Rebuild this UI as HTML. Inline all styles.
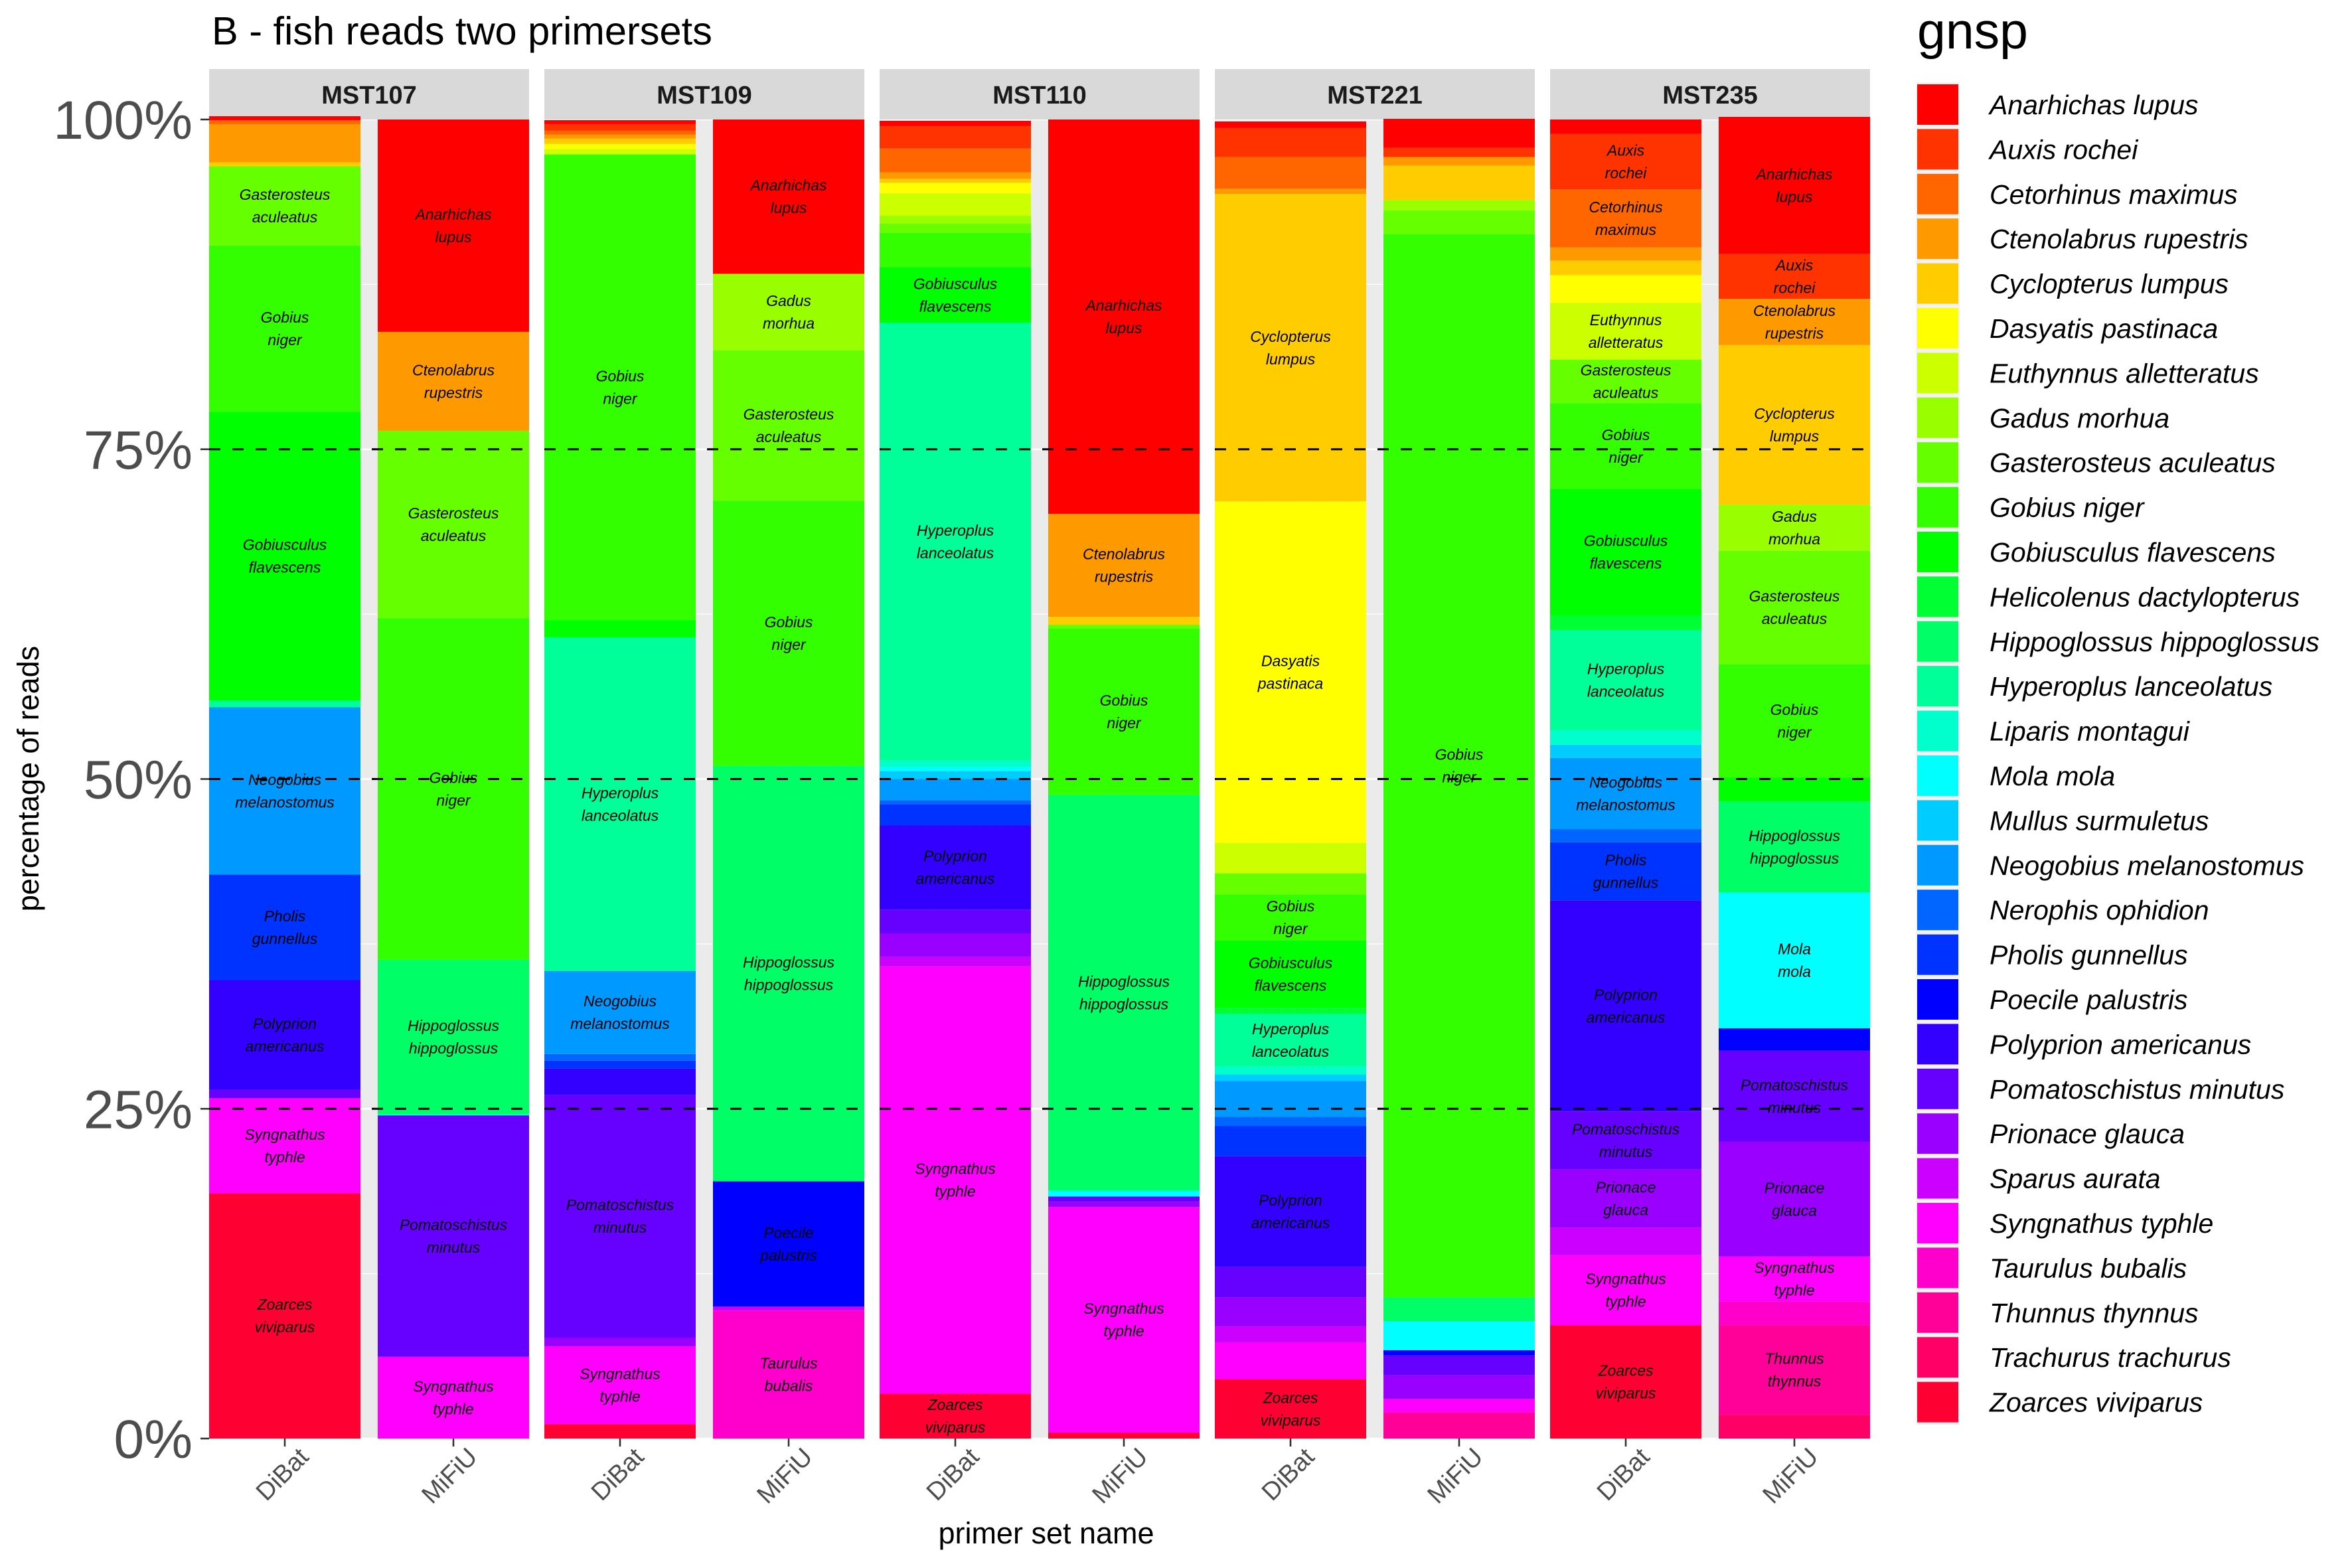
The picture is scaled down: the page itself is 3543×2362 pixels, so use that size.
<!DOCTYPE html>
<html><head><meta charset="utf-8"><title>B - fish reads two primersets</title>
<style>html,body{margin:0;padding:0;background:#fff}svg{display:block}text{font-family:"Liberation Sans",sans-serif}</style>
</head><body>
<svg id="chart" xmlns="http://www.w3.org/2000/svg" width="3543" height="2362" viewBox="0 0 3543 2362">
<rect x="0" y="0" width="3543" height="2362" fill="#fff"/>
<text x="319" y="67" font-size="59.5" fill="#000">B - fish reads two primersets</text>
<g id="plot"></g>
<text x="1576" y="2325" font-size="45" fill="#000" text-anchor="middle">primer set name</text>
<text transform="translate(58,1173) rotate(-90)" font-size="45" fill="#000" text-anchor="middle">percentage of reads</text>
<text x="2888" y="73" font-size="77" fill="#000">gnsp</text>
<g id="legend"></g>
</svg>
<script>
const species = ["Anarhichas lupus","Auxis rochei","Cetorhinus maximus","Ctenolabrus rupestris","Cyclopterus lumpus","Dasyatis pastinaca","Euthynnus alletteratus","Gadus morhua","Gasterosteus aculeatus","Gobius niger","Gobiusculus flavescens","Helicolenus dactylopterus","Hippoglossus hippoglossus","Hyperoplus lanceolatus","Liparis montagui","Mola mola","Mullus surmuletus","Neogobius melanostomus","Nerophis ophidion","Pholis gunnellus","Poecile palustris","Polyprion americanus","Pomatoschistus minutus","Prionace glauca","Sparus aurata","Syngnathus typhle","Taurulus bubalis","Thunnus thynnus","Trachurus trachurus","Zoarces viviparus"];
const panels = ["MST107","MST109","MST110","MST221","MST235"];
const primers = ["DiBat","MiFiU"];
const yTicks = [0,25,50,75,100];
const yTickLabels = ["0%","25%","50%","75%","100%"];
// percentages per species (species order above), one array per bar
const mst107DiBat = [0.3,0,0.3,2.9,0.3,0,0,0,6,12.6,21.9,0,0,0.5,0,0,0,12.7,0,8,0,8.3,0.65,0,0,7.2,0,0,0,18.6];
const mst107MiFiU = [16.1,0,0,7.5,0,0,0,0,14.2,25.9,0,0,11.7,0,0.1,0,0,0,0,0,0,0,18.3,0,0,6.2,0,0,0,0];
const mst109DiBat = [0.3,0.5,0.3,0.3,0.4,0.4,0.4,0,0,35.3,1.3,0,0,25.3,0,0,0,6.3,0.5,0.6,0,2.0,18.4,0.65,0,5.9,0,0,0,1.1];
const mst109MiFiU = [11.7,0,0,0,0,0,0,5.8,11.4,20.1,0,0,31.5,0,0,0,0,0,0,0,9.5,0,0,0,0.3,0,9.7,0,0,0];
const mst110DiBat = [0.4,1.7,1.8,0.5,0.3,0.8,1.7,0.6,0.7,2.6,4.2,0,0,33.2,0.5,0.3,0.6,1.6,0.3,1.6,0,6.4,1.8,1.8,0.7,32.4,0,0,0,3.4];
const mst110MiFiU = [29.9,0,0,7.8,0.6,0,0,0,0.3,12.6,0,0,30,0,0,0.45,0,0,0,0,0,0,0.4,0.4,0,17.1,0,0,0,0.45];
const mst221DiBat = [0.5,2.2,2.4,0.4,23.3,25.9,2.3,0,1.6,3.5,5.1,0.45,0,4.0,0.6,0,0.5,2.7,0.7,2.3,0,8.4,2.3,2.2,1.2,2.8,0,0,0,4.5];
const mst221MiFiU = [2.2,0.7,0,0.65,2.6,0,0,0.8,1.8,80.6,0,0,1.8,0,0,2.2,0,0,0,0,0.4,0,1.5,1.8,0,1.0,0,2.0,0,0];
const mst235DiBat = [1.1,4.2,4.4,1.0,1.1,2.1,4.3,0,3.3,6.5,9.6,1.1,0,7.6,1.1,0,1.0,5.4,1.0,4.4,0,16,4.4,4.4,2.1,5.3,0,0,0,8.6];
const mst235MiFiU = [10.4,3.4,0,3.5,12.1,0,0,3.5,8.6,8.6,1.8,0,6.9,0,0,10.3,0,0,0,0,1.7,0,6.9,8.7,0,3.4,1.8,6.8,1.8,0];
const barData = [[mst107DiBat,mst107MiFiU],[mst109DiBat,mst109MiFiU],[mst110DiBat,mst110MiFiU],[mst221DiBat,mst221MiFiU],[mst235DiBat,mst235MiFiU]];

const NS="http://www.w3.org/2000/svg";
function mk(tag,attrs,parent){const e=document.createElementNS(NS,tag);for(const k in attrs)e.setAttribute(k,attrs[k]);parent.appendChild(e);return e;}
function hsvHex(h){const i=Math.floor(h*6),f=h*6-i,q=1-f,t=f;let r,g,b;switch(i%6){case 0:r=1;g=t;b=0;break;case 1:r=q;g=1;b=0;break;case 2:r=0;g=1;b=t;break;case 3:r=0;g=q;b=1;break;case 4:r=t;g=0;b=1;break;default:r=1;g=0;b=q;}const c=v=>Math.round(v*255).toString(16).padStart(2,'0');return '#'+c(r)+c(g)+c(b);}
const colors = species.map((s,i)=>hsvHex(i/species.length));

const Y0=2167, Y100=180;
const yScale = p => Y0 - (Y0-Y100)*p/100;
const PANEL_X0=315, PANEL_STEP=505, PANEL_W=482, BAR_W=228, BAR_GAP=26;
const panelX = i => PANEL_X0 + PANEL_STEP*i;
const barX = (i,j) => panelX(i) + j*(BAR_W+BAR_GAP);

const plot=document.getElementById('plot');
panels.forEach((pn,i)=>{
  const px=panelX(i);
  const g=mk('g',{},plot);
  
  
  const bg=mk('rect',{x:px,y:Y100,width:PANEL_W,height:Y0-Y100,fill:'#EBEBEB'},g);
  
  
  [12.5,37.5,62.5,87.5].forEach(v=>{const l=mk('line',{x1:px,x2:px+PANEL_W,y1:yScale(v),y2:yScale(v),stroke:'#fff','stroke-width':1.3},g);
    
    });
  yTicks.forEach(v=>{const l=mk('line',{x1:px,x2:px+PANEL_W,y1:yScale(v),y2:yScale(v),stroke:'#fff','stroke-width':2.6},g);
    
    });
  const sr=mk('rect',{x:px,y:104,width:PANEL_W,height:76,fill:'#D9D9D9'},g);
  
  
  const st=mk('text',{x:px+PANEL_W/2,y:156,'font-size':38,'font-weight':'bold',fill:'#1A1A1A','text-anchor':'middle'},g);
  st.textContent=pn;
  
  
  primers.forEach((pr,j)=>{
    const vals=barData[i][j];
    const bx=barX(i,j);
    const bg2=mk('g',{},g);
    
    
    let cum=0;
    const segs=[];
    for(let k=species.length-1;k>=0;k--){
      const v=vals[k]; if(!v) continue;
      const yb=yScale(cum), yt=yScale(cum+v);
      const r=mk('rect',{x:bx,y:yt,width:BAR_W,height:yb-yt,fill:colors[k]},bg2);
      
      
      segs.push([k,v,(yt+yb)/2]);
      cum+=v;
    }
    segs.forEach(([k,v,mid])=>{
      if(v<3) return;
      const parts=species[k].split(' ');
      const t=mk('text',{x:bx+BAR_W/2,y:mid-9,'font-size':23,'font-style':'italic',fill:'#000','text-anchor':'middle'},bg2);
      
      
      const a=mk('tspan',{x:bx+BAR_W/2,y:mid-9},t);a.textContent=parts[0];
      const b=mk('tspan',{x:bx+BAR_W/2,y:mid+25},t);b.textContent=parts[1];
    });
    const tk=mk('line',{x1:bx+BAR_W/2,x2:bx+BAR_W/2,y1:Y0,y2:Y0+12,stroke:'#333','stroke-width':2.6},g);
    
    
    const xl=mk('text',{transform:`translate(${bx+BAR_W/2+38},${Y0+30}) rotate(-45)`,'font-size':38,fill:'#4D4D4D','text-anchor':'end'},g);
    xl.textContent=pr;
    
    
  });
  [25,50,75].forEach(v=>{const l=mk('line',{x1:px,x2:px+PANEL_W,y1:yScale(v),y2:yScale(v),stroke:'#000','stroke-width':3,'stroke-dasharray':'17 18'},g);
    
    });
});
yTicks.forEach((v,i)=>{
  const t=mk('text',{x:290,y:yScale(v)+29,'font-size':82,fill:'#4D4D4D','text-anchor':'end'},plot);
  t.textContent=yTickLabels[i];
  
  
  const l=mk('line',{x1:302,x2:315,y1:yScale(v),y2:yScale(v),stroke:'#333','stroke-width':2.6},plot);
  
  
});
const leg=document.getElementById('legend');
species.forEach((s,i)=>{
  const y=127+i*67.4;
  const g=mk('g',{},leg);
  
  
  mk('rect',{x:2886,y:y-3,width:66,height:67.4,fill:'#F2F2F2'},g);
  mk('rect',{x:2888,y:y,width:62,height:61,fill:colors[i]},g);
  const t=mk('text',{x:2997,y:y+45,'font-size':41,'font-style':'italic',fill:'#000'},g);
  t.textContent=s;
});
</script>
</body></html>
